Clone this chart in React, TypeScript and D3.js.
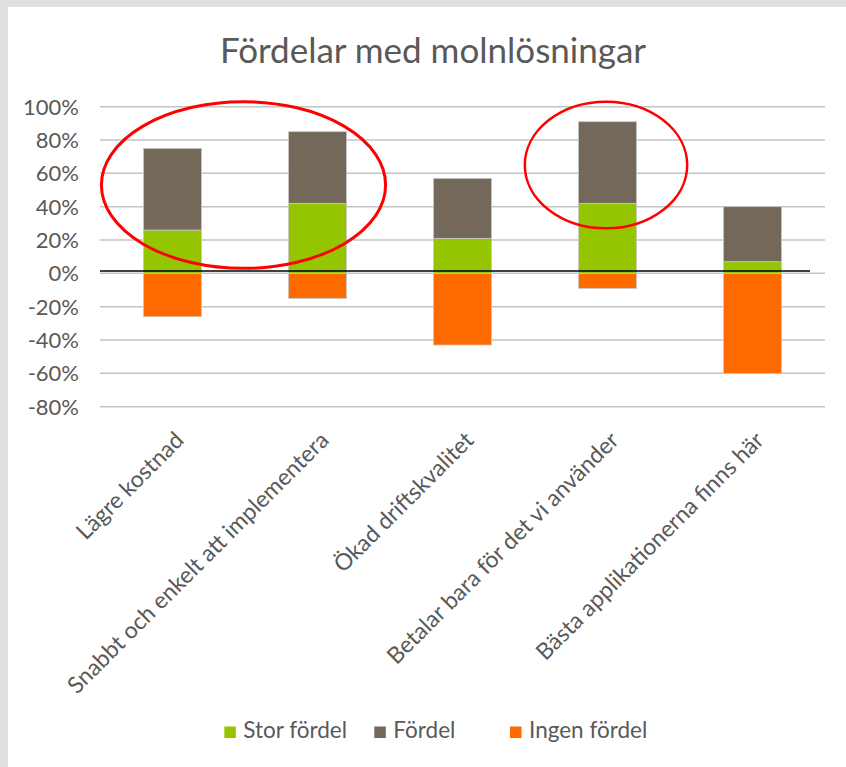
import React from "react";
import * as d3 from "d3";

const title = "Fördelar med molnlösningar";
const categories = [
  "Lägre kostnad",
  "Snabbt och enkelt att implementera",
  "Ökad driftskvalitet",
  "Betalar bara för det vi använder",
  "Bästa applikationerna finns här",
];
const storFordel = [26, 42, 21, 42, 7];
const fordel = [49, 43, 36, 49, 33];
const ingenFordel = [-26, -15, -43, -9, -60];
const yTicks = [100, 80, 60, 40, 20, 0, -20, -40, -60, -80];
const seriesNames = ["Stor fördel", "Fördel", "Ingen fördel"];
// annotation ellipses in data space: centre between categories, centre value, half-width in bands, half-height in %
const highlightCats = [[0, 1], [3, 3]];
const highlightCenterValue = [53, 65];
const highlightHalfWidthBands = [0.98, 0.56];
const highlightHalfHeightValue = [50, 38];

const W = 846;
const H = 767;
const FONT = "Lato, 'Open Sans', sans-serif";
const TEXT = "#595959";
const COLORS = ["#95C500", "#736859", "#FF6A00"];

export default function App() {
  const x = d3.scaleBand<string>().domain(categories).range([100, 825]).padding(0);
  const y = d3.scaleLinear().domain([-80, 100]).range([406.7, 106.7]);
  const bw = x.bandwidth() * 0.4;
  const cx = (c: string) => (x(c) as number) + x.bandwidth() / 2;

  const rows = categories.map((c, i) => ({
    c,
    segs: [
      { y0: 0, y1: storFordel[i], color: COLORS[0] },
      { y0: storFordel[i], y1: storFordel[i] + fordel[i], color: COLORS[1] },
      { y0: ingenFordel[i], y1: 0, color: COLORS[2] },
    ],
  }));

  const legendX = [224.3, 374.3, 510];

  return (
    <div style={{ position: "absolute", left: 0, top: 0 }}>
      <svg width={W} height={H} style={{ display: "block" }}>
        <rect x={0} y={0} width={W} height={H} fill="#e0e0e0" />
        <rect x={8} y={7} width={W - 8} height={H - 7} fill="#ffffff" />
        <text x={433} y={62.5} textAnchor="middle" fontFamily={FONT} fontSize={35} fill={TEXT}>
          {title}
        </text>
        {yTicks.map((t) => (
          <g key={t}>
            <line x1={100} x2={825} y1={y(t)} y2={y(t)} stroke="#c4c4c4" strokeWidth={1.5} />
            <text x={79} y={y(t)} dy="0.36em" textAnchor="end" fontFamily={FONT} fontSize={22} fill={TEXT}>
              {`${t}%`}
            </text>
          </g>
        ))}
        {rows.map((r) =>
          r.segs.map((s, j) => (
            <rect
              key={r.c + j}
              x={cx(r.c) - bw / 2}
              y={y(s.y1)}
              width={bw}
              height={y(s.y0) - y(s.y1)}
              fill={s.color}
              stroke="#c8c8c8"
              strokeWidth={0.8}
            />
          ))
        )}
        <line x1={100} x2={810} y1={y(0) - 2.3} y2={y(0) - 2.3} stroke="#000" strokeWidth={1.6} />
        {highlightCats.map((hc, i) => {
          const ex = (cx(categories[hc[0]]) + cx(categories[hc[1]])) / 2 - 1.5;
          return (
            <ellipse
              key={i}
              cx={ex}
              cy={y(highlightCenterValue[i])}
              rx={highlightHalfWidthBands[i] * x.bandwidth()}
              ry={y(0) - y(highlightHalfHeightValue[i])}
              fill="none"
              stroke="#ff0000"
              strokeWidth={i === 0 ? 3 : 2.5}
            />
          );
        })}
        {categories.map((c) => (
          <text
            key={c}
            transform={`translate(${cx(c) + 1},${430}) rotate(-45)`}
            dy="0.72em"
            textAnchor="end"
            fontFamily={FONT}
            fontSize={23}
            fill={TEXT}
          >
            {c}
          </text>
        ))}
        {seriesNames.map((n, i) => (
          <g key={n}>
            <rect x={legendX[i]} y={726.5} width={11.5} height={11.5} fill={COLORS[i]} />
            <text x={legendX[i] + 19} y={738} fontFamily={FONT} fontSize={22.5} fill={TEXT}>
              {n}
            </text>
          </g>
        ))}
      </svg>
    </div>
  );
}
